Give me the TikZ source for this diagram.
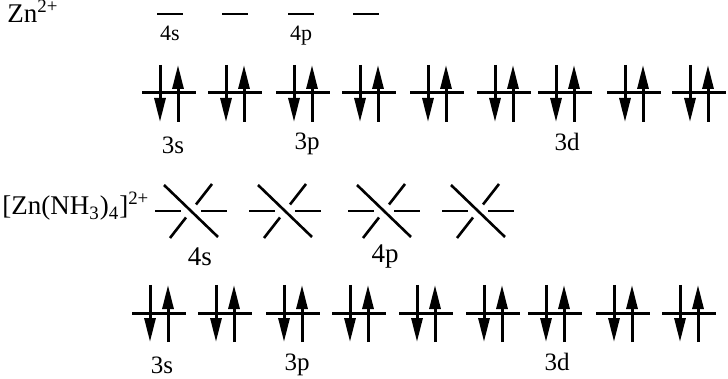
\documentclass[tikz,border=0pt]{standalone}
\usepackage{fontspec}
\setmainfont{Liberation Serif}
\usetikzlibrary{arrows.meta}

\tikzset{
  pair/.pic={
    \draw[lvl] (0,0) -- (54,0);
    \draw[spin] (18,-28) -- (18,29);
    \draw[spin] (36,29) -- (36,-28);
  },
  hybrid/.pic={
    \draw[xlvl] (-36,0) -- (-10,0) (10,0) -- (36,0);
    \draw[xlvl] (-27,-26) -- (27,26);
    \draw[xlvl] (-21,27) -- (-5,6.5) (5,-6.5) -- (21,-27);
  },
}

\begin{document}
\begin{tikzpicture}[x=0.5pt, y=-0.5pt,
    every node/.style={inner sep=0pt},
    lvl/.style={line width=1.5pt},
    thin lvl/.style={line width=1.4pt},
    xlvl/.style={line width=1.3pt},
    spin/.style={line width=1.5pt, -{Triangle[length=12pt, width=5.5pt]}},
    lbl/.style={font=\fontsize{12.5}{15}\selectfont, anchor=base},
    big lbl/.style={font=\fontsize{13.5}{16}\selectfont, anchor=base},
    small lbl/.style={font=\fontsize{11}{13}\selectfont, anchor=base},
  ]
  \useasboundingbox (0,0) rectangle (728,379);

  % free ion
  \node[big lbl, anchor=base west] (ion) at (7,23) {Zn\textsuperscript{2+}};
  \foreach \x in {157,222,288,353}
    \draw[thin lvl] (\x,14) -- ++(26,0);
  \node[small lbl] (ion4s) at (170,41) {4s};
  \node[small lbl] (ion4p) at (301,41) {4p};

  \foreach \x in {142,208,276,342,410,477,538,607,672}
    \pic at (\x,93) {pair};
  \node[lbl] (ion3s) at (173,154) {3s};
  \node[lbl] (ion3p) at (307,150) {3p};
  \node[lbl] (ion3d) at (567,151) {3d};

  % complex
  \node[big lbl, anchor=base west] (cplx) at (2,215)
    {[Zn(NH\textsubscript{3})\textsubscript{4}]\textsuperscript{2+}};
  \foreach \x in {191,285,384,478}
    \pic at (\x,211) {hybrid};
  \node[big lbl] (cplx4s) at (200,265) {4s};
  \node[big lbl] (cplx4p) at (385,263) {4p};

  \foreach \x in {132,198,266,332,399,466,528,596,662}
    \pic at (\x,313) {pair};
  \node[lbl] (cplx3s) at (162,373) {3s};
  \node[lbl] (cplx3p) at (297,370) {3p};
  \node[lbl] (cplx3d) at (557,370) {3d};
\end{tikzpicture}
\end{document}
